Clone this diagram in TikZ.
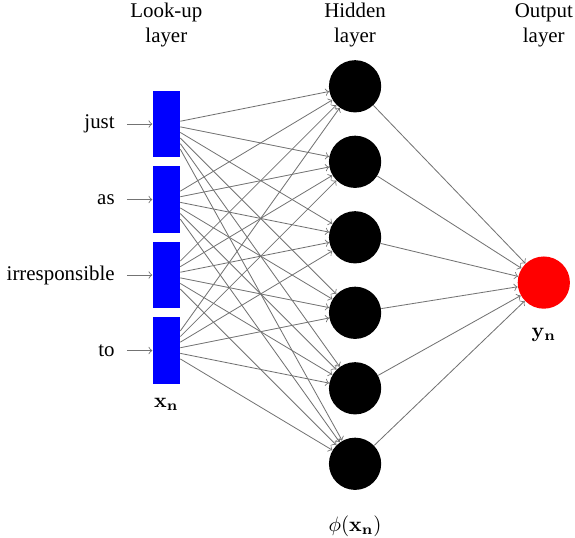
\documentclass[tikz,border=0pt]{standalone}
\usepackage[no-math]{fontspec}
\setmainfont{Liberation Serif}
\usepackage{amsmath}
\usepackage{amssymb}
\usetikzlibrary{positioning}

\begin{document}
\begin{tikzpicture}[x=1.27cm, y=1.27cm,
        lookup/.style={fill=blue, minimum width=13pt, minimum height=32pt, inner sep=0pt},
        hidden/.style={circle, fill=black, minimum size=25pt, inner sep=0pt},
        output/.style={circle, fill=red, minimum size=25pt, inner sep=0pt},
        link/.style={->, black!55},
        word/.style={anchor=east, inner sep=5.6pt}]
        \useasboundingbox (-2.203,0.143) rectangle (5.413,-6.970);
        % look-up layer with its words
        \foreach \w [count=\i] in {just,as,irresponsible,to} {
            \node[lookup] (in-\i) at (0,-\i-0.5) {};
            \node[word] (word-\i) at (-0.524,-\i-0.5) {\w};
            \draw[link] (word-\i) -- (in-\i);
        }
        % hidden and output layers
        \foreach \j in {1,...,6}
            \node[hidden] (h-\j) at (2.5,-\j) {};
        \node[output] (out) at (5,-3.6) {};
        \foreach \i in {1,...,4}
            \foreach \j in {1,...,6}
                \draw[link] (in-\i) -- (h-\j);
        \foreach \j in {1,...,6}
            \draw[link] (h-\j) -- (out);
        % labels
        \node[align=center] (title-in) at (0,-0.19) {Look-up\\layer};
        \node[align=center] (title-h) at (2.5,-0.19) {Hidden\\layer};
        \node[align=center] (title-out) at (5,-0.19) {Output\\layer};
        \node[below=3pt of in-4] (xn) {$\mathbf{x_n}$};
        \node[below=8.8pt of h-6] (phi) {$\phi(\mathbf{x_n})$};
        \node[below=5.7pt of out] (yn) {$\mathbf{y_n}$};
    \end{tikzpicture}
\end{document}
